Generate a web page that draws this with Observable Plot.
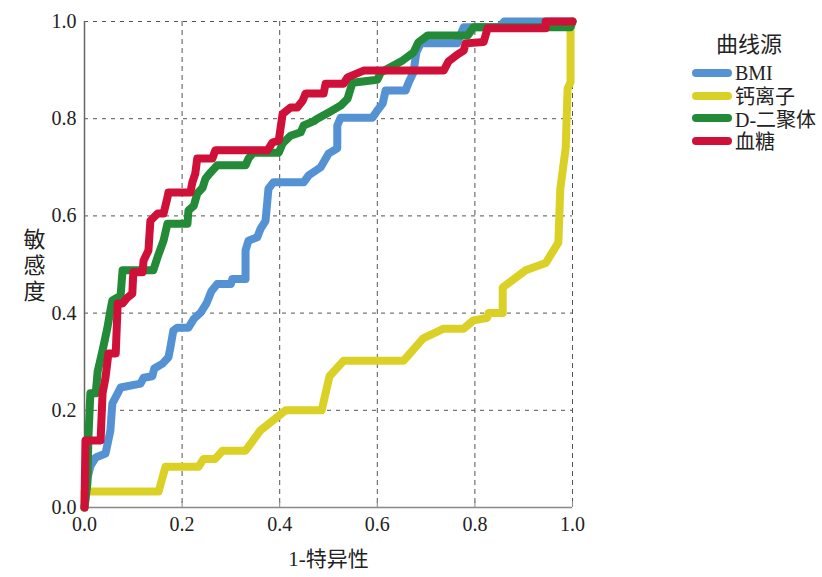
<!DOCTYPE html>
<html>
<head>
<meta charset="utf-8">
<script src="https://cdn.jsdelivr.net/npm/d3@7"></script>
<script src="https://cdn.jsdelivr.net/npm/@observablehq/plot@0.6"></script>
<style>
  body { margin: 0; background: #fff; }
  #wrap { position: relative; width: 822px; height: 577px; font-family: "Liberation Serif", "Noto Sans CJK SC", serif; }
  #legend { position: absolute; left: 692px; top: 26px; color: #222; }
  #legend .title { font-size: 22px; margin-left: 24px; margin-bottom: 4px; }
  #legend .item { display: flex; align-items: center; height: 22.5px; font-size: 20px; }
  #legend .sw { width: 40px; height: 8px; border-radius: 4px; margin-right: 3px; }
</style>
</head>
<body>
<div id="wrap"></div>
<script>
const seriesNames = ["BMI", "钙离子", "D-二聚体", "血糖"];
const seriesColors = ["#5592d3", "#dbd126", "#238a37", "#cf1139"];
const xTicks = [0, 0.2, 0.4, 0.6, 0.8, 1.0];
const yTicks = [0, 0.2, 0.4, 0.6, 0.8, 1.0];
const gridTicks = [0.2, 0.4, 0.6, 0.8, 1.0];
const xLabel = "1-特异性";
const yLabel = "敏感度";
const legendTitle = "曲线源";

const bmi = [[0,0],[0.006,0.06],[0.012,0.085],[0.023,0.103],[0.043,0.111],[0.053,0.158],[0.057,0.214],[0.068,0.235],[0.074,0.247],[0.115,0.255],[0.121,0.267],[0.139,0.27],[0.143,0.286],[0.16,0.296],[0.172,0.309],[0.176,0.329],[0.182,0.364],[0.19,0.37],[0.213,0.37],[0.224,0.388],[0.238,0.401],[0.25,0.42],[0.26,0.445],[0.272,0.46],[0.3,0.46],[0.303,0.47],[0.33,0.47],[0.33,0.529],[0.336,0.549],[0.354,0.556],[0.361,0.574],[0.371,0.59],[0.377,0.656],[0.387,0.669],[0.449,0.669],[0.459,0.683],[0.484,0.7],[0.5,0.728],[0.518,0.739],[0.518,0.786],[0.525,0.802],[0.59,0.802],[0.6,0.817],[0.611,0.831],[0.617,0.858],[0.658,0.858],[0.664,0.874],[0.674,0.895],[0.68,0.936],[0.689,0.955],[0.764,0.955],[0.77,0.971],[0.777,0.988],[0.85,0.988],[0.86,1],[1,1]];
const calcium = [[0,0],[0,0.033],[0.152,0.033],[0.166,0.084],[0.234,0.084],[0.244,0.1],[0.268,0.1],[0.283,0.117],[0.33,0.117],[0.36,0.158],[0.412,0.2],[0.486,0.2],[0.502,0.27],[0.531,0.302],[0.654,0.302],[0.694,0.348],[0.736,0.368],[0.777,0.368],[0.797,0.385],[0.825,0.39],[0.828,0.4],[0.857,0.4],[0.857,0.453],[0.904,0.488],[0.945,0.503],[0.971,0.545],[0.975,0.656],[0.986,0.739],[0.99,0.862],[0.996,0.875],[0.996,0.986],[1,1]];
const dimer = [[0,0],[0.006,0.05],[0.008,0.144],[0.012,0.235],[0.023,0.235],[0.027,0.28],[0.037,0.323],[0.047,0.37],[0.053,0.405],[0.057,0.426],[0.074,0.436],[0.078,0.488],[0.141,0.488],[0.15,0.516],[0.162,0.549],[0.17,0.584],[0.211,0.584],[0.213,0.611],[0.224,0.621],[0.231,0.646],[0.242,0.658],[0.248,0.677],[0.258,0.689],[0.272,0.704],[0.33,0.704],[0.336,0.718],[0.346,0.73],[0.398,0.73],[0.406,0.749],[0.422,0.765],[0.443,0.772],[0.449,0.786],[0.47,0.795],[0.477,0.8],[0.504,0.815],[0.525,0.827],[0.539,0.841],[0.549,0.874],[0.6,0.88],[0.607,0.895],[0.652,0.92],[0.674,0.936],[0.684,0.957],[0.703,0.971],[0.785,0.971],[0.797,0.988],[0.996,0.988],[1,1]];
const glucose = [[0,0],[0.002,0.138],[0.033,0.138],[0.037,0.235],[0.043,0.267],[0.049,0.317],[0.064,0.317],[0.068,0.42],[0.078,0.42],[0.088,0.432],[0.098,0.44],[0.1,0.484],[0.119,0.484],[0.121,0.508],[0.131,0.529],[0.135,0.59],[0.15,0.605],[0.162,0.605],[0.17,0.638],[0.172,0.648],[0.217,0.648],[0.221,0.669],[0.227,0.687],[0.231,0.718],[0.262,0.718],[0.268,0.735],[0.375,0.735],[0.385,0.751],[0.398,0.755],[0.406,0.81],[0.422,0.823],[0.436,0.823],[0.447,0.837],[0.453,0.852],[0.49,0.852],[0.494,0.872],[0.531,0.872],[0.539,0.885],[0.572,0.899],[0.736,0.899],[0.746,0.918],[0.764,0.932],[0.777,0.94],[0.781,0.955],[0.818,0.958],[0.826,0.986],[0.945,0.986],[0.945,1],[1,1]];

const seriesData = [bmi, calcium, dimer, glucose];
const rows = [];
seriesData.forEach((pts, i) => pts.forEach(([x, y]) => rows.push({series: seriesNames[i], x, y})));

const fmt = d3.format(".1f");
const plot = Plot.plot({
  width: 822,
  height: 577,
  marginLeft: 84,
  marginRight: 250,
  marginTop: 21,
  marginBottom: 70,
  style: {fontFamily: "'Liberation Serif', 'Noto Sans CJK SC', serif", fontSize: "20px", color: "#222", background: "#fff"},
  x: {domain: [0, 1], axis: null},
  y: {domain: [0, 1], axis: null},
  color: {domain: seriesNames, range: seriesColors},
  marks: [
    Plot.gridX(gridTicks, {stroke: "#555", strokeOpacity: 1, strokeWidth: 1, strokeDasharray: "5,4"}),
    Plot.gridY(gridTicks, {stroke: "#555", strokeOpacity: 1, strokeWidth: 1, strokeDasharray: "4,5"}),
    Plot.ruleX([0], {stroke: "#666", strokeWidth: 1.5}),
    Plot.ruleY([0], {stroke: "#888", strokeWidth: 1.5}),
    Plot.ruleX(xTicks, {x: d => d, y1: 0, y2: 0.012, stroke: "#888"}),
    Plot.axisX(xTicks, {tickSize: 0, tickPadding: 9, tickFormat: fmt, fontSize: 20, label: null}),
    Plot.axisY(yTicks, {tickSize: 0, tickPadding: 8, tickFormat: fmt, fontSize: 20, label: null}),
    Plot.line(rows, {x: "x", y: "y", z: "series", stroke: "series", strokeWidth: 8, strokeLinejoin: "round", curve: "linear"}),
    Plot.text([xLabel], {frameAnchor: "bottom", dy: 58, fontSize: 21, fill: "#222"}),
    Plot.text([yLabel.split("").join("\n")], {frameAnchor: "left", dx: -61, fontSize: 22, lineHeight: 1.2, fill: "#222"})
  ]
});
const wrap = document.getElementById("wrap");
wrap.appendChild(plot);

const legend = document.createElement("div");
legend.id = "legend";
const t = document.createElement("div");
t.className = "title";
t.textContent = legendTitle;
legend.appendChild(t);
seriesNames.forEach((name, i) => {
  const it = document.createElement("div");
  it.className = "item";
  const sw = document.createElement("div");
  sw.className = "sw";
  sw.style.background = seriesColors[i];
  const lb = document.createElement("span");
  lb.textContent = name;
  it.appendChild(sw);
  it.appendChild(lb);
  legend.appendChild(it);
});
wrap.appendChild(legend);
</script>
</body>
</html>
